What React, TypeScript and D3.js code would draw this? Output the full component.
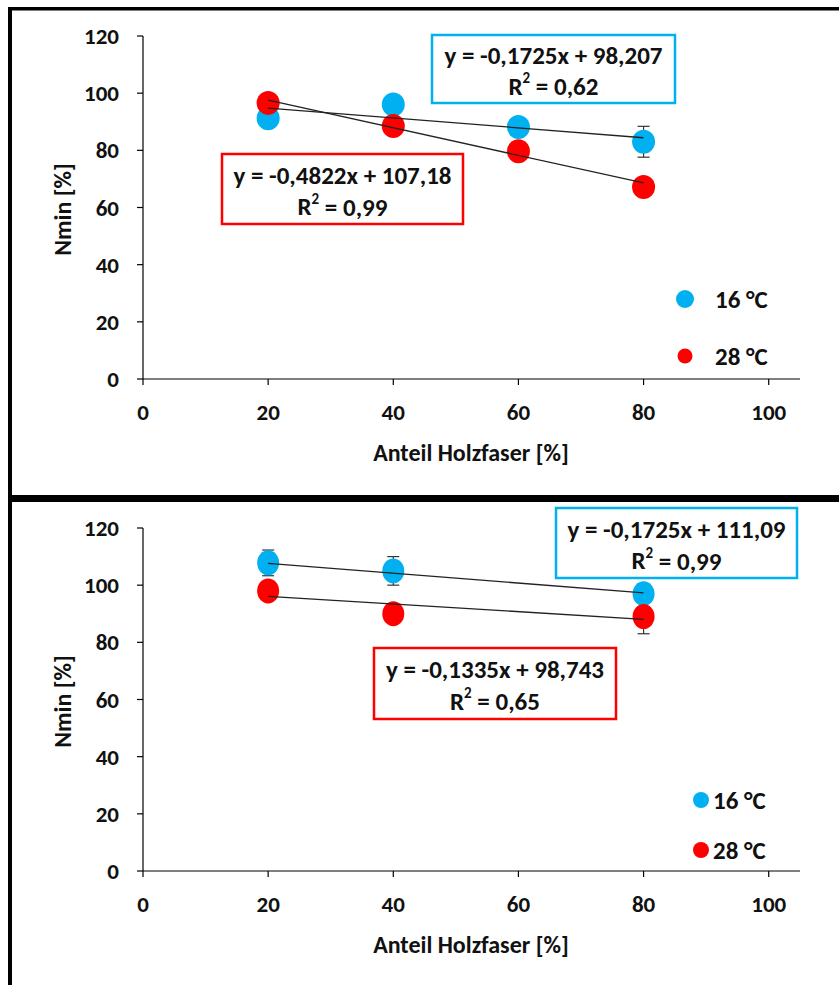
import React from "react";
import * as d3 from "d3";

// ---------- data ----------
const xTicks = [0, 20, 40, 60, 80, 100];
const yTicks = [0, 20, 40, 60, 80, 100, 120];

const topX = [20, 40, 60, 80];
const top16 = [91.2, 96.0, 88.2, 83.0];
const top16Err = [2, 2, 2, 5.4];
const top28 = [96.6, 88.5, 79.7, 67.2];
const top28Err = [1, 1, 1, 1];

const bottomX = [20, 40, 80];
const bottom16 = [107.8, 105.0, 97.0];
const bottom16Err = [4.5, 5.0, 2];
const bottom28 = [98.0, 90.0, 89.0];
const bottom28Err = [2, 1.5, 6];

const topFit16 = { slope: -0.1725, intercept: 98.207, eq: "y = -0,1725x + 98,207", r2: "0,62" };
const topFit28 = { slope: -0.4822, intercept: 107.18, eq: "y = -0,4822x + 107,18", r2: "0,99" };
const bottomFit16 = { slope: -0.1725, intercept: 111.09, eq: "y = -0,1725x + 111,09", r2: "0,99" };
const bottomFit28 = { slope: -0.1335, intercept: 98.743, eq: "y = -0,1335x + 98,743", r2: "0,65" };

const legendLabels = ["16 °C", "28 °C"];

const BLUE = "#00B0F0";
const RED = "#FF0000";
const FONT = "Carlito, Lato, 'Open Sans', sans-serif";
const TICK_FS = 23;
const TITLE_FS = 24;
const EQ_FS = 25;
const LEG_FS = 25;

type Fit = { slope: number; intercept: number; eq: string; r2: string };

type PanelProps = {
  yTop: number;
  yZero: number;
  xs: number[];
  s16: number[];
  e16: number[];
  s28: number[];
  e28: number[];
  fit16: Fit;
  fit28: Fit;
  box16: { x: number; y: number; w: number; h: number };
  box28: { x: number; y: number; w: number; h: number };
  legend: { x: number; y1: number; y2: number; r1: number; r2: number; tx: number };
  rx: number;
  ry: number;
};

function EqBox({ b, fit, color }: { b: { x: number; y: number; w: number; h: number }; fit: Fit; color: string }) {
  const cx = b.x + b.w / 2;
  return (
    <g>
      <rect x={b.x} y={b.y} width={b.w} height={b.h} fill="white" stroke={color} strokeWidth={2.5} />
      <text x={cx} y={b.y + b.h * 0.3} textAnchor="middle" dominantBaseline="central" fontSize={EQ_FS} fontWeight="bold" fontFamily={FONT} fill="#111">
        {fit.eq}
      </text>
      <text x={cx} y={b.y + b.h * 0.75} textAnchor="middle" dominantBaseline="central" fontSize={EQ_FS} fontWeight="bold" fontFamily={FONT} fill="#111">
        R<tspan fontSize={15} dy={-8}>2</tspan>
        <tspan dy={8}> = {fit.r2}</tspan>
      </text>
    </g>
  );
}

function Panel(p: PanelProps) {
  const x = d3.scaleLinear().domain([0, 105]).range([143, 800]);
  const y = d3.scaleLinear().domain([0, 120]).range([p.yZero, p.yTop]);
  const x0 = x(0);
  const fitLine = (f: Fit) =>
    d3.line<number>().x((d) => x(d)).y((d) => y(f.slope * d + f.intercept))([
      d3.min(p.xs) as number,
      d3.max(p.xs) as number,
    ]) as string;

  const errBars = (vals: number[], errs: number[], key: string) =>
    vals.map((v, i) => {
      const cx = x(p.xs[i]);
      return (
        <g key={key + i} stroke="#333" strokeWidth={1.2}>
          <line x1={cx} x2={cx} y1={y(v + errs[i])} y2={y(v - errs[i])} />
          <line x1={cx - 6} x2={cx + 6} y1={y(v + errs[i])} y2={y(v + errs[i])} />
          <line x1={cx - 6} x2={cx + 6} y1={y(v - errs[i])} y2={y(v - errs[i])} />
        </g>
      );
    });

  return (
    <g>
      {/* axes */}
      <line x1={x0} x2={x0} y1={y(120)} y2={y(0)} stroke="#000" strokeWidth={1.2} />
      <line x1={x0} x2={x(105)} y1={y(0)} y2={y(0)} stroke="#000" strokeWidth={1.2} />
      {yTicks.map((t) => (
        <g key={"y" + t}>
          <line x1={x0 - 6} x2={x0} y1={y(t)} y2={y(t)} stroke="#000" strokeWidth={1.2} />
          <text x={119} y={y(t)} textAnchor="end" dominantBaseline="central" fontSize={TICK_FS} fontWeight="bold" fontFamily={FONT} fill="#111">
            {t}
          </text>
        </g>
      ))}
      {xTicks.map((t) => (
        <g key={"x" + t}>
          <line x1={x(t)} x2={x(t)} y1={y(0)} y2={y(0) + 6} stroke="#000" strokeWidth={1.2} />
          <text x={x(t)} y={y(0) + 33} textAnchor="middle" dominantBaseline="central" fontSize={TICK_FS} fontWeight="bold" fontFamily={FONT} fill="#111">
            {t}
          </text>
        </g>
      ))}
      <text x={471} y={y(0) + 73} textAnchor="middle" dominantBaseline="central" fontSize={TITLE_FS} fontWeight="bold" fontFamily={FONT} fill="#111">
        Anteil Holzfaser [%]
      </text>
      <text
        transform={`translate(62, ${(y(0) + y(120)) / 2 + 2}) rotate(-90)`}
        textAnchor="middle"
        dominantBaseline="central"
        fontSize={TITLE_FS}
        fontWeight="bold"
        fontFamily={FONT}
        fill="#111"
      >
        Nmin [%]
      </text>

      {/* error bars */}
      {errBars(p.s16, p.e16, "e16")}
      {errBars(p.s28, p.e28, "e28")}

      {/* markers */}
      {p.s16.map((v, i) => (
        <ellipse key={"b" + i} cx={x(p.xs[i])} cy={y(v)} rx={p.rx} ry={p.ry} fill={BLUE} />
      ))}
      {p.s28.map((v, i) => (
        <ellipse key={"r" + i} cx={x(p.xs[i])} cy={y(v)} rx={p.rx} ry={p.ry} fill={RED} />
      ))}

      {/* trend lines */}
      <path d={fitLine(p.fit16)} stroke="#222" strokeWidth={1.3} fill="none" />
      <path d={fitLine(p.fit28)} stroke="#222" strokeWidth={1.3} fill="none" />

      {/* equation boxes */}
      <EqBox b={p.box16} fit={p.fit16} color={BLUE} />
      <EqBox b={p.box28} fit={p.fit28} color={RED} />

      {/* legend */}
      <circle cx={p.legend.x} cy={p.legend.y1} r={p.legend.r1} fill={BLUE} />
      <circle cx={p.legend.x} cy={p.legend.y2} r={p.legend.r2} fill={RED} />
      <text x={p.legend.tx} y={p.legend.y1} dominantBaseline="central" fontSize={LEG_FS} fontWeight="bold" fontFamily={FONT} fill="#111">
        {legendLabels[0]}
      </text>
      <text x={p.legend.tx} y={p.legend.y2} dominantBaseline="central" fontSize={LEG_FS} fontWeight="bold" fontFamily={FONT} fill="#111">
        {legendLabels[1]}
      </text>
    </g>
  );
}

export default function App() {
  return (
    <svg width={839} height={985} style={{ position: "absolute", left: 0, top: 0, background: "white" }}>
      <rect x={0} y={0} width={839} height={985} fill="white" />
      {/* frame */}
      <rect x={8} y={7} width={831} height={3.5} fill="#000" />
      <rect x={8} y={7} width={4} height={978} fill="#000" />
      <rect x={8} y={495} width={831} height={7} fill="#000" />

      <Panel
        yTop={36}
        yZero={379}
        xs={topX}
        s16={top16}
        e16={top16Err}
        s28={top28}
        e28={top28Err}
        fit16={topFit16}
        fit28={topFit28}
        box16={{ x: 432, y: 35, w: 243, h: 68 }}
        box28={{ x: 222, y: 154, w: 241, h: 70 }}
        legend={{ x: 685, y1: 299, y2: 356, r1: 9, r2: 7.5, tx: 715 }}
        rx={11.5}
        ry={12}
      />
      <Panel
        yTop={528}
        yZero={871}
        xs={bottomX}
        s16={bottom16}
        e16={bottom16Err}
        s28={bottom28}
        e28={bottom28Err}
        fit16={bottomFit16}
        fit28={bottomFit28}
        box16={{ x: 556, y: 508, w: 241, h: 70 }}
        box28={{ x: 374, y: 648, w: 242, h: 71 }}
        legend={{ x: 701, y1: 800, y2: 850, r1: 8, r2: 8, tx: 713 }}
        rx={11}
        ry={12.5}
      />
    </svg>
  );
}
